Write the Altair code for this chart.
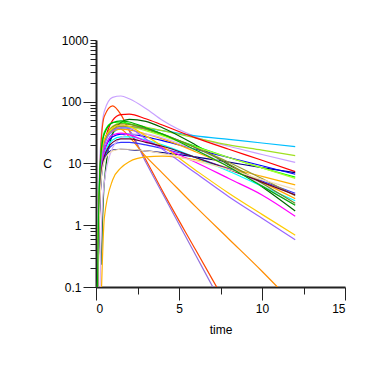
import altair as alt
import pandas as pd

# sampling times (h)
times = [0.05, 0.15, 0.3, 0.5, 1, 1.5, 2, 3, 4, 6, 8, 10, 12]

# concentration profiles, one list per subject (None = not observed)
s01 = [0.01, 2, 25, 70, 118, 124, 112, 78, 50, 27, 19, 14, 10.4]
s02 = [0.01, 0.5, 20, 58, 86, 62, 34, 11.5, 3.6, 0.4, 0.045, 0.005, 0.0006]
s03 = [0.005, 0.3, 8, 22, 38, 42, 35, 10.5, 3.3, 0.33, 0.033, 0.0033, 0.0003]
s04 = [0.01, 0.8, 10, 24, 37, 36, 27, 13, 7, 2.0, 0.6, 0.18, 0.05]
s05 = [None, 0.002, 0.05, 1.3, 5.4, 8.5, 10.7, 12.8, 13.2, 11.5, 8.5, 6.2, 4.5]
s06 = [0.01, 0.4, 6, 16, 31, 37, 38, 37, 34, 28, 24.5, 21.5, 18.7]
s07 = [0.01, 0.6, 9, 22, 40, 45, 44, 39, 34, 26, 20, 16.5, 13.4]
s08 = [0.01, 0.3, 6, 20, 50, 62, 63, 53, 42, 26, 17, 11.3, 7.4]
s09 = [0.01, 0.5, 5, 12, 16.5, 17, 16.8, 16, 15, 12.8, 10.5, 8.6, 7.1]
s10 = [None, None, 0.23, 5, 30, 46, 52, 48, 38, 20, 9.5, 4.2, 1.7]
s11 = [0.02, 1.5, 15, 32, 46, 47, 44, 36, 29, 19, 12.5, 8.5, 6]
s12 = [0.01, 0.5, 7, 16, 27, 30, 30, 27, 23.5, 17, 12.5, 9.2, 6.7]
s13 = [0.01, 0.6, 9, 22, 36, 40, 39, 34, 28, 18.5, 12.5, 8.5, 5.75]
s14 = [0.01, 0.4, 5, 12, 20, 22, 22, 20, 17.5, 12.5, 8.2, 5.2, 3.3]
s15 = [0.01, 0.5, 8, 20, 35, 40, 40, 36, 30, 18, 10.5, 5.7, 3.0]
s16 = [0.02, 1, 10, 22, 33, 36, 35, 30, 25, 15.5, 9, 5, 2.7]
s17 = [0.01, 0.4, 6, 14, 24, 27, 27, 24, 20, 12.5, 7.5, 4.3, 2.5]
s18 = [0.01, 0.6, 9, 22, 39, 44, 43, 37, 30, 18, 9.8, 4.8, 2.27]
s19 = [None, 0.005, 0.5, 5, 18, 26, 30, 30, 26, 16.5, 9, 4.4, 2.13]
s20 = [0.01, 0.5, 7, 16, 29, 31, 29, 23, 18, 10.5, 5.7, 3.1, 1.4]
s21 = [0.01, 0.8, 10, 24, 38, 42, 40, 28, 19, 7.8, 3.3, 1.5, 0.69]
s22 = [0.01, 0.6, 8, 20, 34, 38, 37, 25, 17, 7, 2.9, 1.3, 0.58]
s23 = [0.01, 0.4, 6, 13, 22, 25, 25, 22, 19, 12.5, 8, 5, 3.1]
s24 = [0.01, 0.4, 5, 11, 16, 17, 17, 16, 14.5, 11, 8, 5.5, 3.8]
s25 = [0.02, 1.2, 14, 30, 46, 49, 47, 38, 30, 16.5, 8.8, 4.3, 2.1]

profiles = [s01, s02, s03, s04, s05, s06, s07, s08, s09, s10, s11, s12, s13,
            s14, s15, s16, s17, s18, s19, s20, s21, s22, s23, s24, s25]
ids = [f"ID{i+1}" for i in range(len(profiles))]
colors = ["#C8A0FF", "#FF4500", "#9370DB", "#FF8C00", "#FFB000", "#00BFFF",
          "#A0E020", "#FF0000", "#000080", "#006400", "#00FF00", "#0000FF",
          "#ADFF2F", "#3333FF", "#999933", "#FFA500", "#00FFFF", "#6B8E23",
          "#D8B0F8", "#FF00FF", "#FFCC00", "#9966FF", "#660033", "#F5DEB3",
          "#00B000"]

x_ticks = [0, 2.5, 5, 7.5, 10, 12.5, 15]
y_ticks = [round(m * 10 ** k, 6) for k in range(-1, 3) for m in range(1, 10)] + [1000]

rows = []
for sid, prof in zip(ids, profiles):
    for t, c in zip(times, prof):
        if c is not None:
            rows.append({"id": sid, "time": t, "C": c})
df = pd.DataFrame(rows)

is_pow10 = "abs(log(datum.value)/LN10 - round(log(datum.value)/LN10)) < 1e-6"

chart = alt.Chart(df).mark_line(clip=True, strokeWidth=1.2, interpolate="monotone").encode(
    x=alt.X("time:Q",
            scale=alt.Scale(domain=[0, 15], nice=False, zero=False),
            axis=alt.Axis(values=x_ticks, title="time", grid=False,
                          labelExpr="datum.value % 5 == 0 ? datum.label : ''",
                          tickSize={"condition": {"test": "datum.value % 5 == 0", "value": 13}, "value": 7},
                          labelPadding=3, titleY=37)),
    y=alt.Y("C:Q",
            scale=alt.Scale(type="log", domain=[0.1, 1000], nice=False),
            axis=alt.Axis(values=y_ticks, title="C", grid=False,
                          labelExpr=f"{is_pow10} ? format(datum.value, '~g') : ''",
                          tickSize={"condition": {"test": f"{is_pow10} && datum.value < 999", "value": 13}, "value": 6},
                          labelPadding=2, titleAngle=0, titleAlign="center",
                          titleBaseline="middle", titleX=-49, titleY=123)),
    color=alt.Color("id:N", scale=alt.Scale(domain=ids, range=colors), legend=None),
).properties(
    width=249, height=247, autosize="none",
    padding={"left": 88, "top": 32, "right": 30, "bottom": 50},
).configure_view(stroke=None).configure_axis(
    domainColor="#222", domainWidth=2, tickColor="#222", tickWidth=1,
    labelFont="Liberation Sans", labelFontSize=12, labelColor="#000",
    titleFont="Liberation Sans", titleFontSize=12, titleFontWeight="normal", titleColor="#000",
)

chart.save("out.html", embed_options={"renderer": "svg", "actions": False})
